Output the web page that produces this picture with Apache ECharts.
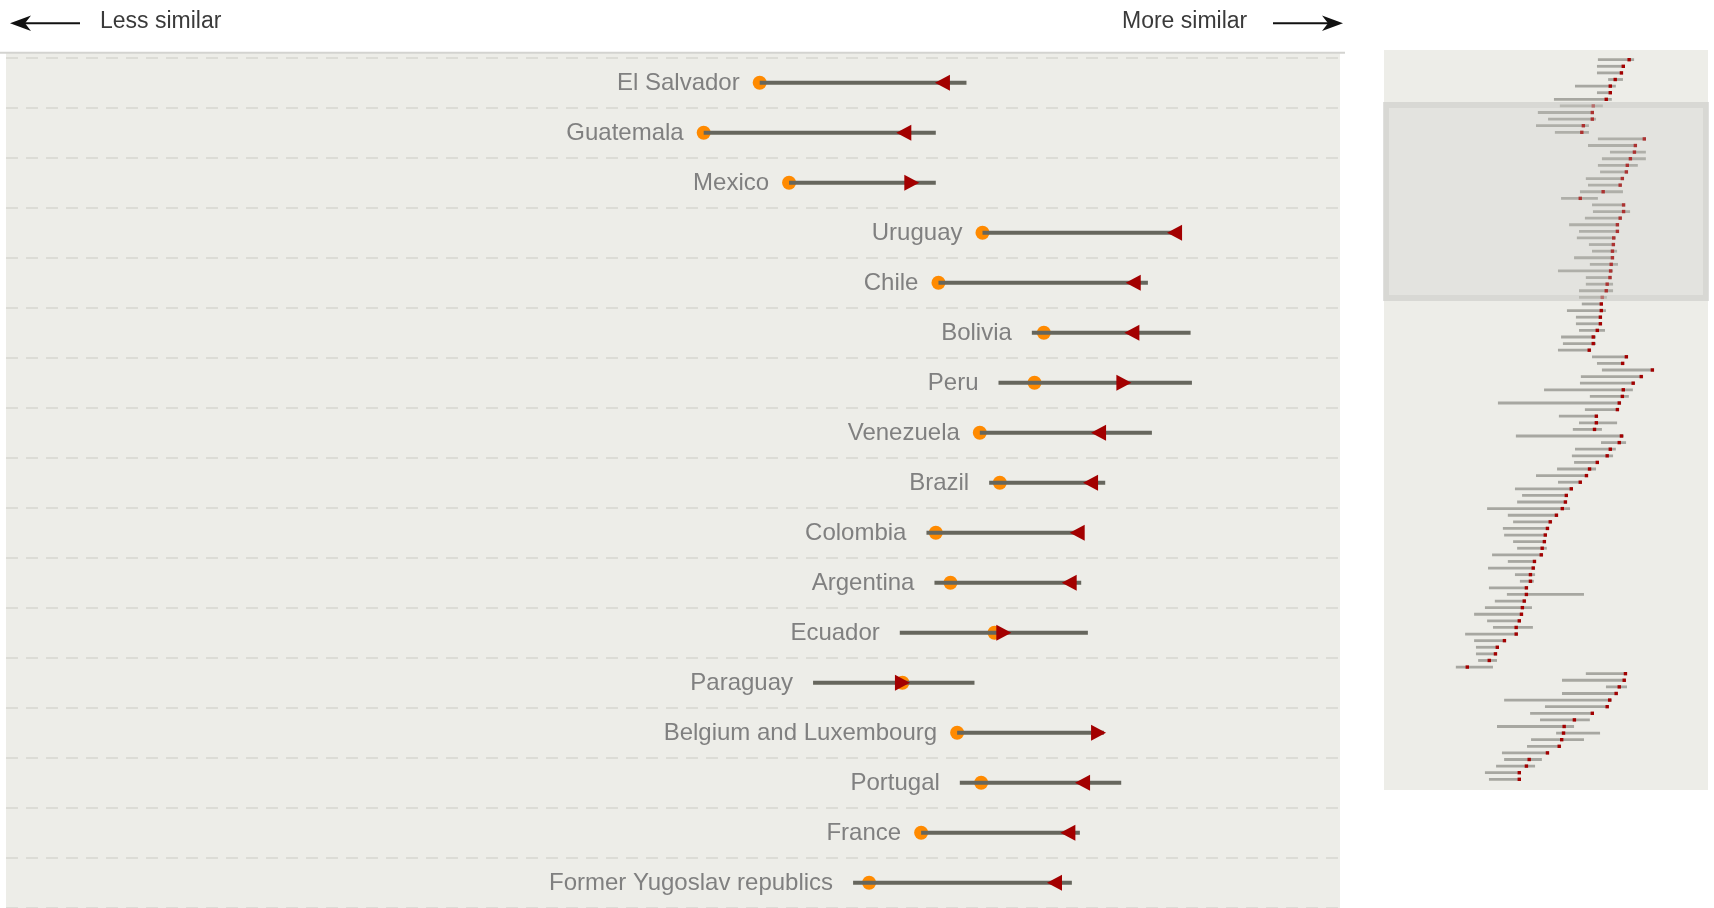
<!DOCTYPE html>
<html>
<head>
<meta charset="utf-8">
<script src="https://cdn.jsdelivr.net/npm/echarts@6/dist/echarts.min.js"></script>
<style>
html,body{margin:0;padding:0;background:#fff;}
#chart{width:1714px;height:908px;}
</style>
</head>
<body>
<div id="chart"></div>
<script>
// ---------- main panel data (similarity scale 0-100) ----------
const mainCategories = ["El Salvador","Guatemala","Mexico","Uruguay","Chile","Bolivia","Peru","Venezuela","Brazil","Colombia","Argentina","Ecuador","Paraguay","Belgium and Luxembourg","Portugal","France","Former Yugoslav republics"];
const mainLow    = [56.5, 52.3, 58.7, 73.2, 69.9, 76.9, 74.4, 73.0, 73.7, 69.0, 69.6, 67.0, 60.5, 71.3, 71.5, 68.6, 63.5];
const mainHigh   = [72.0, 69.7, 69.7, 88.1, 85.6, 88.8, 88.9, 85.9, 82.4, 80.7, 80.6, 81.1, 72.6, 82.3, 83.6, 80.5, 79.9];
const mainDot    = [56.5, 52.3, 58.7, 73.2, 69.9, 77.8, 77.1, 73.0, 74.5, 69.7, 70.8, 74.1, 67.2, 71.3, 73.1, 68.6, 64.7];
const mainMarker = [70.2, 67.3, 67.9, 87.6, 84.5, 84.4, 83.8, 81.9, 81.3, 80.3, 79.7, 74.8, 67.2, 81.9, 80.7, 79.6, 78.6];
const mainDirection = ["left","left","right","left","left","left","right","left","left","left","left","right","right","right","left","left","left"];

// ---------- overview (minimap) data ----------
const miniLow = [72.6,72.3,72.3,75.9,65.2,72.3,58.4,60.3,53.2,56.5,52.6,58.7,72.6,69.4,76.5,73.9,72.6,73.3,68.7,69.4,
 66.8,60.7,70.7,71.0,68.4,63.3,66.5,65.8,69.7,70.7,64.9,70.0,59.7,68.7,68.7,66.5,66.5,67.4,62.6,65.5,
 65.5,66.5,60.7,61.3,59.7,70.7,72.3,73.9,67.1,66.8,55.2,70.0,40.3,68.4,60.0,66.5,64.5,46.1,73.6,65.2,
 64.2,64.9,59.4,52.6,59.7,45.8,48.1,46.5,36.8,43.5,45.2,41.9,42.3,45.2,46.5,38.4,43.5,37.1,45.8,47.4,
 37.4,43.2,39.3,36.1,32.6,36.8,38.7,29.7,32.6,33.2,33.2,33.9,26.7,68.7,61.0,75.2,61.0,42.3,55.5,50.7,
 53.9,40.0,59.1,51.0,49.7,41.6,42.3,39.7,36.1,37.4];
const miniHigh = [84.3,81.3,80.7,80.7,78.4,77.1,77.1,74.2,71.3,72.0,69.7,69.7,88.1,85.2,88.1,88.1,85.5,82.3,81.0,80.4,
 80.7,72.6,81.3,83.0,80.4,79.4,79.4,78.4,78.1,78.8,77.8,79.1,77.5,77.1,77.5,77.5,75.5,74.2,75.2,73.9,
 73.9,74.9,72.0,72.0,70.4,82.3,81.0,90.7,87.2,84.6,83.9,82.6,80.1,79.4,72.6,78.8,73.9,81.0,81.7,78.4,
 77.5,72.9,72.0,69.4,67.4,64.5,62.9,62.6,63.6,59.7,57.8,56.8,56.1,55.8,56.1,54.9,52.6,52.3,52.3,51.9,
 50.0,68.1,49.4,51.3,48.4,47.7,51.6,46.8,42.9,40.6,40.0,40.0,38.7,82.0,81.7,82.0,79.1,77.1,76.2,71.3,
 70.0,64.9,73.3,68.1,60.7,56.8,54.5,52.3,47.7,47.7];
const miniMarker = [82.7,80.8,80.2,78.2,76.6,76.6,75.3,71.1,70.8,70.8,67.9,67.4,87.6,84.7,84.4,83.1,82.1,81.8,80.5,79.8,
 74.3,66.9,80.9,80.9,79.8,78.9,78.9,77.7,77.6,77.3,77.3,76.9,76.7,76.5,75.6,75.3,74.0,73.7,73.7,73.4,
 73.4,72.4,71.1,71.1,69.8,81.8,80.6,90.2,86.6,84.0,80.8,80.5,79.5,78.9,72.1,72.1,71.5,80.2,79.5,76.6,
 75.6,72.4,69.9,68.9,66.9,64.0,62.4,62.1,61.1,59.2,57.2,56.3,55.6,55.3,54.6,54.3,52.1,51.7,50.8,50.8,
 49.5,49.5,48.8,48.2,47.9,47.2,46.2,46.2,42.4,40.1,39.5,37.5,30.4,81.5,81.1,79.5,78.5,76.4,75.6,70.8,
 65.0,61.7,61.5,60.9,60.1,56.3,50.4,49.5,47.2,47.2];

const headerLeft = "Less similar";
const headerRight = "More similar";

// ---------- build series data ----------
const mainData = mainCategories.map((c, i) => [i, mainLow[i], mainHigh[i], mainDot[i], mainMarker[i], mainDirection[i] === "right" ? 1 : -1]);
const miniIdx = miniLow.map((_, i) => i);
const miniData = miniLow.map((v, i) => [i, miniLow[i], miniHigh[i], miniMarker[i]]);

const chart = echarts.init(document.getElementById('chart'), null, {renderer: 'canvas'});
const FONT = '"Liberation Sans", Arial, Helvetica, sans-serif';

function renderMain(params, api) {
  const i = api.value(0);
  const lo = api.value(1), hi = api.value(2), dot = api.value(3), mk = api.value(4), dir = api.value(5);
  const y = api.coord([0, i])[1];
  const xLo = api.coord([lo, i])[0];
  const xHi = api.coord([hi, i])[0];
  const xDot = api.coord([dot, i])[0];
  const xMk = api.coord([mk, i])[0];
  const xLabel = Math.min(xLo, xDot) - 20;
  const hw = 7.5, hh = 8;
  const tri = dir > 0
    ? [[xMk + hw, y], [xMk - hw, y - hh], [xMk - hw, y + hh]]
    : [[xMk - hw, y], [xMk + hw, y - hh], [xMk + hw, y + hh]];
  return {
    type: 'group',
    children: [
      {type: 'text', style: {text: mainCategories[i], x: xLabel, y: y + 1, align: 'right', verticalAlign: 'middle', fontSize: 24, fontFamily: FONT, fill: '#808080'}},
      {type: 'circle', shape: {cx: xDot, cy: y, r: 7}, style: {fill: '#ff8a00'}},
      {type: 'rect', shape: {x: xLo, y: y - 2, width: xHi - xLo, height: 4}, style: {fill: '#66665d'}},
      {type: 'polygon', shape: {points: tri}, style: {fill: '#a30000'}}
    ]
  };
}

function renderMini(params, api) {
  const i = api.value(0);
  const lo = api.value(1), hi = api.value(2), mk = api.value(3);
  const y = api.coord([0, i])[1];
  const xLo = api.coord([lo, i])[0];
  const xHi = api.coord([hi, i])[0];
  const xMk = api.coord([mk, i])[0];
  return {
    type: 'group',
    children: [
      {type: 'rect', shape: {x: xLo, y: y - 1.4, width: xHi - xLo, height: 2.8}, style: {fill: '#a7a7a1'}},
      {type: 'rect', shape: {x: xMk - 1.7, y: y - 1.7, width: 3.4, height: 3.4}, style: {fill: '#a30000'}}
    ]
  };
}

const option = {
  animation: false,
  backgroundColor: '#ffffff',
  grid: [
    {left: 6, right: 374, top: 57.7, bottom: 0.3},
    {left: 1373.2, right: 31.3, top: 56.4, bottom: 125.4}
  ],
  xAxis: [
    {gridIndex: 0, type: 'value', min: 0, max: 100, show: false},
    {gridIndex: 1, type: 'value', min: 0, max: 100, show: false}
  ],
  yAxis: [
    {gridIndex: 0, type: 'category', data: mainCategories, inverse: true,
     axisLine: {show: false}, axisTick: {show: false}, axisLabel: {show: false},
     splitLine: {show: true, lineStyle: {color: '#dcdcd6', width: 2, type: [12, 8]}}},
    {gridIndex: 1, type: 'category', data: miniIdx, inverse: true, show: false}
  ],
  graphic: [
    // main panel background
    {type: 'rect', z: -10, shape: {x: 6, y: 53, width: 1334, height: 855}, style: {fill: '#ededE8'}},
    {type: 'line', z: -5, shape: {x1: 0, y1: 52.7, x2: 1345, y2: 52.7}, style: {stroke: '#d3d3d0', lineWidth: 2}},
    // overview panel background
    {type: 'rect', z: -10, shape: {x: 1384, y: 50, width: 324, height: 740}, style: {fill: '#ededE8'}},
    // overview highlight box
    {type: 'rect', z: 50, shape: {x: 1383, y: 102, width: 326, height: 199}, style: {fill: 'rgba(200,200,196,0.25)'}},
    {type: 'rect', z: 51, shape: {x: 1386, y: 105, width: 320, height: 193}, style: {fill: 'none', stroke: 'rgba(200,200,196,0.4)', lineWidth: 6}},
    // header
    {type: 'line', z: 10, shape: {x1: 24, y1: 23.3, x2: 80, y2: 23.3}, style: {stroke: '#111', lineWidth: 2}},
    {type: 'polygon', z: 10, shape: {points: [[10, 23.3], [31, 15.5], [25, 23.3], [31, 31.1]]}, style: {fill: '#111'}},
    {type: 'text', z: 10, style: {text: headerLeft, x: 100, y: 21.5, align: 'left', verticalAlign: 'middle', fontSize: 23, fontFamily: FONT, fill: '#3a3a3a'}},
    {type: 'line', z: 10, shape: {x1: 1273, y1: 23.3, x2: 1330, y2: 23.3}, style: {stroke: '#111', lineWidth: 2}},
    {type: 'polygon', z: 10, shape: {points: [[1343, 23.3], [1322, 15.5], [1328, 23.3], [1322, 31.1]]}, style: {fill: '#111'}},
    {type: 'text', z: 10, style: {text: headerRight, x: 1122, y: 21.5, align: 'left', verticalAlign: 'middle', fontSize: 23, fontFamily: FONT, fill: '#3a3a3a'}}
  ],
  series: [
    {type: 'custom', name: 'main', xAxisIndex: 0, yAxisIndex: 0, renderItem: renderMain, data: mainData, clip: false, silent: true},
    {type: 'custom', name: 'overview', xAxisIndex: 1, yAxisIndex: 1, renderItem: renderMini, data: miniData, clip: false, silent: true}
  ]
};
chart.setOption(option);
</script>
</body>
</html>
